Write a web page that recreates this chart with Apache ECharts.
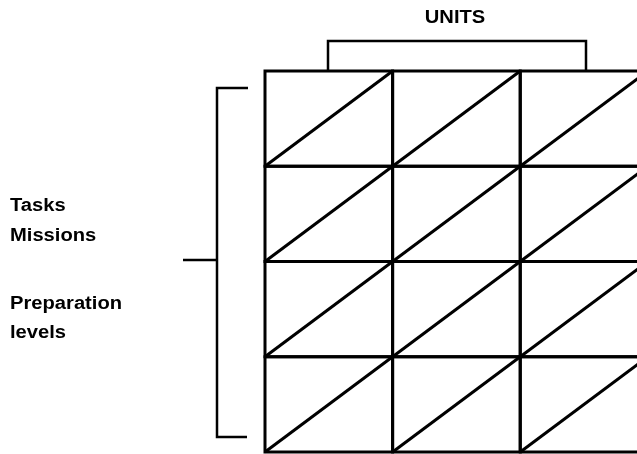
<!DOCTYPE html>
<html>
<head>
<meta charset="utf-8">
<script src="https://cdn.jsdelivr.net/npm/echarts@6/dist/echarts.min.js"></script>
<style>html,body{margin:0;padding:0;background:#fff;}#c{width:637px;height:454px;}</style>
</head>
<body>
<div id="c"></div>
<script>
// Columns (units) and rows (tasks/missions × preparation levels) of the matrix
var unitColumns = ['Unit 1', 'Unit 2', 'Unit 3'];
var levelRows = ['Row 1', 'Row 2', 'Row 3', 'Row 4'];
var topLabel = 'UNITS';
var leftLabels = ['Tasks', 'Missions', 'Preparation', 'levels'];

var cells = [];
for (var r = 0; r < levelRows.length; r++) {
  for (var c = 0; c < unitColumns.length; c++) {
    cells.push([c, r]);
  }
}

var chart = echarts.init(document.getElementById('c'), null, {renderer: 'canvas'});
var FONT = '"Liberation Sans", Arial, Helvetica, sans-serif';
var lineW = 3;
// the third column is cut off by the right edge of the picture
var visibleColumns = 2.915;

var textStyle = function (t, x, y, align) {
  return {
    type: 'text', x: x, y: y, scaleX: 1.12,
    style: {text: t, fill: '#000', fontSize: 18, fontWeight: 'bold', fontFamily: FONT,
      textAlign: align, textVerticalAlign: 'middle'}
  };
};

chart.setOption({
  backgroundColor: '#fff',
  animation: false,
  grid: {left: 265, top: 71, right: 0, height: 381},
  xAxis: {type: 'value', min: 0, max: visibleColumns, show: false},
  yAxis: {type: 'value', min: 0, max: levelRows.length, inverse: true, show: false},
  series: [{
    type: 'custom',
    clip: false,
    data: cells,
    renderItem: function (params, api) {
      var c = api.value(0), r = api.value(1);
      var tl = api.coord([c, r]);
      var br = api.coord([c + 1, r + 1]);
      return {
        type: 'group',
        children: [
          {type: 'rect', shape: {x: tl[0], y: tl[1], width: br[0] - tl[0], height: br[1] - tl[1]},
            style: {fill: 'none', stroke: '#000', lineWidth: lineW}},
          {type: 'line', shape: {x1: tl[0], y1: br[1], x2: br[0], y2: tl[1]},
            style: {stroke: '#000', lineWidth: lineW}}
        ]
      };
    }
  }],
  graphic: [
    {type: 'polyline', shape: {points: [[328, 71], [328, 41], [586, 41], [586, 71]]},
      style: {fill: 'none', stroke: '#000', lineWidth: 2.5}},
    {type: 'polyline', shape: {points: [[248, 88], [217, 88], [217, 437], [247, 437]]},
      style: {fill: 'none', stroke: '#000', lineWidth: 2.5}},
    {type: 'line', shape: {x1: 183, y1: 260, x2: 217, y2: 260},
      style: {stroke: '#000', lineWidth: 2.5}},
    textStyle(topLabel, 455, 18, 'center'),
    textStyle(leftLabels[0], 10, 206, 'left'),
    textStyle(leftLabels[1], 10, 236, 'left'),
    textStyle(leftLabels[2], 10, 304, 'left'),
    textStyle(leftLabels[3], 10, 333, 'left')
  ]
});
</script>
</body>
</html>
